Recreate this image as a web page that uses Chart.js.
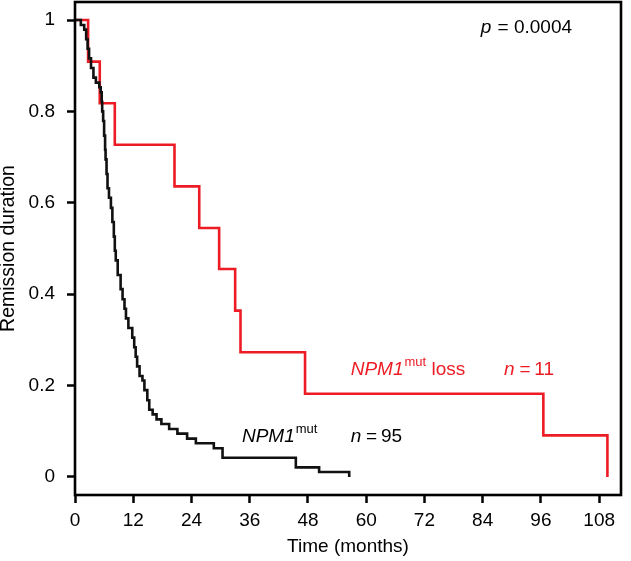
<!DOCTYPE html>
<html>
<head>
<meta charset="utf-8">
<script src="https://cdn.jsdelivr.net/npm/chart.js@4.4.1/dist/chart.umd.min.js"></script>
<style>
  html, body { margin: 0; padding: 0; background: #fff; }
  #wrap { width: 631px; height: 561px; position: relative; }
</style>
</head>
<body>
<div id="wrap"><canvas id="chart"></canvas></div>
<script>
////// tick labels
const xTicks = [0, 12, 24, 36, 48, 60, 72, 84, 96, 108];
const yTicks = [0, 0.2, 0.4, 0.6, 0.8, 1];

////// NPM1mut loss (n = 11)
const lossTimes = [0, 2.7, 5.1, 8.2, 20.5, 25.6, 29.7, 33.0, 34.1, 47.4, 96.5, 109.7];
const lossSurv  = [1, 0.909, 0.818, 0.727, 0.636, 0.545, 0.455, 0.364, 0.273, 0.182, 0.091, 0];

////// NPM1mut (n = 95)
const mutTimes = [0, 1.2, 1.9, 2.3, 2.6, 2.9, 3.3, 3.8, 4.3, 5.0, 5.3, 5.5, 5.6, 5.8, 6.0, 6.2, 6.3, 6.5, 6.7,
                  7.0, 7.4, 7.7, 8.0, 8.2, 8.4, 8.8, 9.4, 9.8, 10.2, 10.5, 11.0, 11.8, 12.2, 12.5, 12.8, 13.3,
                  13.9, 14.3, 14.9, 15.3, 16.0, 16.8, 17.8, 19.4, 21.1, 23.1, 24.9, 28.6, 30.4, 45.5, 50.3, 56.5];
const mutSurv  = [1, 0.989, 0.979, 0.958, 0.937, 0.916, 0.895, 0.874, 0.863, 0.853, 0.842, 0.821, 0.800, 0.779, 0.747, 0.716, 0.695, 0.663, 0.632,
                  0.611, 0.589, 0.558, 0.526, 0.495, 0.474, 0.442, 0.411, 0.389, 0.368, 0.347, 0.326, 0.305, 0.284, 0.263, 0.242, 0.221,
                  0.211, 0.190, 0.168, 0.147, 0.137, 0.126, 0.116, 0.105, 0.095, 0.084, 0.074, 0.063, 0.042, 0.021, 0.011, 0];

const RED = '#ed1c24';
const FONT = '"Liberation Sans", Arial, Helvetica, sans-serif';

function toPoints(xs, ys) {
    return xs.map((x, i) => ({ x: x, y: ys[i] }));
}

// text notes inside the plot, placed in data units
const notes = [
    { x: 83.6, y: 0.972, color: '#000', parts: [['p', 'i'], [' = 0.0004', '']] },
    { x: 56.8, y: 0.223, color: RED, parts: [['NPM1', 'i'], ['mut', 's'], [' loss', '']] },
    { x: 88.4, y: 0.223, color: RED, parts: [['n', 'i'], ['\u2009=\u200911', '']] },
    { x: 34.4, y: 0.077, color: '#000', parts: [['NPM1', 'i'], ['mut', 's']] },
    { x: 56.8, y: 0.077, color: '#000', parts: [['n', 'i'], ['\u2009=\u200995', '']] }
];

const framePlugin = {
    id: 'frame',
    afterDatasetsDraw(chart) {
        const { ctx, chartArea: a, scales } = chart;
        ctx.save();
        ctx.strokeStyle = '#000';
        ctx.lineWidth = 2.6;
        ctx.strokeRect(a.left, a.top, a.right - a.left, a.bottom - a.top);

        ctx.textBaseline = 'alphabetic';
        ctx.textAlign = 'left';
        notes.forEach(n => {
            let px = scales.x.getPixelForValue(n.x);
            const py = scales.y.getPixelForValue(n.y);
            ctx.fillStyle = n.color;
            n.parts.forEach(([txt, style]) => {
                let dy = 0;
                if (style === 'i') ctx.font = 'italic 19px ' + FONT;
                else if (style === 's') { ctx.font = '13px ' + FONT; dy = -9; }
                else ctx.font = '19px ' + FONT;
                ctx.fillText(txt, px, py + dy);
                px += ctx.measureText(txt).width + (style === 'i' ? 1 : 0);
            });
        });
        ctx.restore();
    }
};

const tickGrid = {
    display: true,
    drawOnChartArea: false,
    drawTicks: true,
    tickLength: 8,
    tickWidth: 2.5,
    tickColor: '#000'
};

function noPad(s) {
    s.paddingTop = 0;
    s.paddingBottom = 0;
    s.paddingLeft = 0;
    s.paddingRight = 0;
}

new Chart(document.getElementById('chart').getContext('2d'), {
    type: 'line',
    data: {
        datasets: [{
            label: 'NPM1mut',
            data: toPoints(mutTimes, mutSurv),
            borderColor: '#111',
            borderWidth: 2.6,
            stepped: true,
            pointRadius: 0,
            fill: false,
            order: 0
        }, {
            label: 'NPM1mut loss',
            data: toPoints(lossTimes, lossSurv),
            borderColor: RED,
            borderWidth: 2.6,
            stepped: true,
            pointRadius: 0,
            fill: false,
            order: 1
        }]
    },
    options: {
        responsive: true,
        maintainAspectRatio: false,
        animation: false,
        layout: { padding: { left: 0, top: 2, right: 10, bottom: 0 } },
        plugins: {
            legend: { display: false },
            tooltip: { enabled: false }
        },
        scales: {
            x: {
                type: 'linear',
                min: 0,
                max: 112.5,
                afterBuildTicks: s => { s.ticks = xTicks.map(v => ({ value: v })); },
                afterFit: s => { s.height = 66; noPad(s); },
                grid: tickGrid,
                border: { display: false },
                ticks: {
                    color: '#000',
                    font: { family: FONT, size: 19 },
                    padding: 6,
                    maxRotation: 0,
                    autoSkip: false
                },
                title: {
                    display: true,
                    text: 'Time (months)',
                    color: '#000',
                    font: { family: FONT, size: 19 },
                    padding: { top: 0, bottom: 3 }
                }
            },
            y: {
                type: 'linear',
                min: -0.0394,
                max: 1.0394,
                afterBuildTicks: s => { s.ticks = yTicks.map(v => ({ value: v })); },
                afterFit: s => { s.width = 75; noPad(s); },
                grid: tickGrid,
                border: { display: false },
                ticks: {
                    color: '#000',
                    font: { family: FONT, size: 19 },
                    padding: 12,
                    callback: v => String(Math.round(v * 10) / 10)
                },
                title: {
                    display: true,
                    text: 'Remission duration',
                    color: '#000',
                    font: { family: FONT, size: 19.5, lineHeight: 0.9 },
                    padding: { top: 0, bottom: 0 }
                }
            }
        }
    },
    plugins: [framePlugin]
});
</script>
</body>
</html>
